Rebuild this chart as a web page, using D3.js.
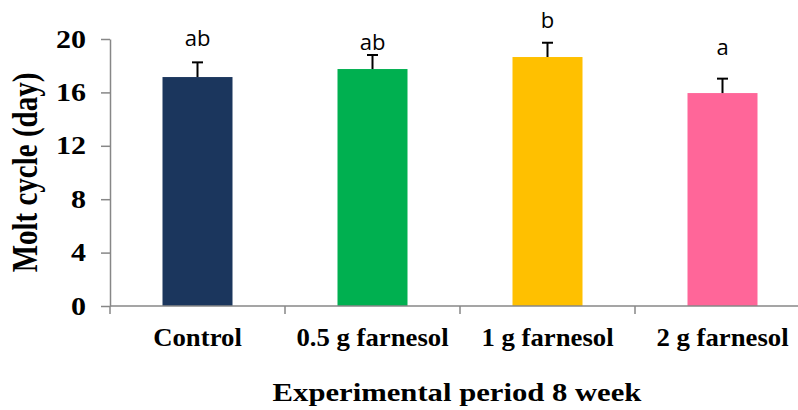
<!DOCTYPE html>
<html>
<head>
<meta charset="utf-8">
<script src="https://cdn.jsdelivr.net/npm/d3@7"></script>
<style>
  html, body { margin: 0; padding: 0; background: #fff; }
  svg { display: block; }
</style>
</head>
<body>
<svg id="chart" width="798" height="410"></svg>
<script>
// Molt cycle length per treatment (days), with standard error and significance letters
const categories = ["Control", "0.5 g farnesol", "1 g farnesol", "2 g farnesol"];
const means = [17.15, 17.75, 18.65, 15.95];
const errors = [1.1, 1.05, 1.07, 1.08];
const letters = ["ab", "ab", "b", "a"];
const letterAt = [19.48, 19.18, 20.82, 18.8];   // value level where each letter sits
const yTicks = [0, 4, 8, 12, 16, 20];
const colors = ["#1b365d", "#00b050", "#ffc000", "#ff6699"];

const svg = d3.select("#chart");
const serif = "'Liberation Serif', 'Times New Roman', serif";
const sans = "'Open Sans', 'Noto Sans', sans-serif";
const axisGrey = "#878787";

const x = d3.scaleBand()
  .domain(categories)
  .range([110, 810])
  .paddingInner(0.6)
  .paddingOuter(0.3);

const y = d3.scaleLinear().domain([0, 20]).range([306, 39]);

// text placed at (px, py) and widened horizontally by factor k
function wideText(parent, px, py, k, str, size, anchor) {
  return parent.append("g")
    .attr("transform", `translate(${px},${py}) scale(${k},1)`)
    .append("text")
    .attr("text-anchor", anchor)
    .attr("font-family", serif)
    .attr("font-weight", "bold")
    .attr("font-size", size)
    .attr("fill", "#000")
    .text(str);
}

// bars
svg.append("g").selectAll("rect")
  .data(categories)
  .join("rect")
  .attr("x", d => x(d))
  .attr("y", (d, i) => y(means[i]))
  .attr("width", x.bandwidth())
  .attr("height", (d, i) => y(0) - y(means[i]))
  .attr("fill", (d, i) => colors[i]);

// upper error bars
const eb = svg.append("g").attr("stroke", "#000").attr("stroke-width", 2);
categories.forEach((c, i) => {
  const cx = x(c) + x.bandwidth() / 2;
  eb.append("line")
    .attr("x1", cx).attr("x2", cx)
    .attr("y1", y(means[i])).attr("y2", y(means[i] + errors[i]));
  eb.append("line")
    .attr("x1", cx - 5.5).attr("x2", cx + 5.5)
    .attr("y1", y(means[i] + errors[i])).attr("y2", y(means[i] + errors[i]));
});

// significance letters
svg.append("g").selectAll("text")
  .data(categories)
  .join("text")
  .attr("x", d => x(d) + x.bandwidth() / 2)
  .attr("y", (d, i) => y(letterAt[i]))
  .attr("text-anchor", "middle")
  .attr("font-family", sans)
  .attr("font-size", 22)
  .attr("fill", "#000")
  .text((d, i) => letters[i]);

// y axis (line and ticks from d3.axisLeft, labels drawn widened)
const yAxis = svg.append("g")
  .attr("transform", "translate(110,0)")
  .call(d3.axisLeft(y).tickValues(yTicks).tickSize(9).tickSizeOuter(0).tickFormat(""));
yAxis.select(".domain").attr("stroke", axisGrey).attr("stroke-width", 1.5);
yAxis.selectAll(".tick line").attr("stroke", axisGrey).attr("stroke-width", 1.5);
const yLab = svg.append("g");
yTicks.forEach(t => wideText(yLab, 86, y(t) + 8.5, 1.2, d3.format("d")(t), 25, "end"));

// x axis with ticks at band boundaries
const step = x.step();
const gapHalf = (step - x.bandwidth()) / 2;
const bounds = categories.map(c => x(c) - gapHalf)
  .concat([x(categories[categories.length - 1]) + x.bandwidth() + gapHalf]);
const xAxis = svg.append("g");
xAxis.append("line")
  .attr("x1", x.range()[0]).attr("x2", x.range()[1])
  .attr("y1", y(0)).attr("y2", y(0))
  .attr("stroke", axisGrey).attr("stroke-width", 1.5);
xAxis.selectAll(".xt")
  .data(bounds)
  .join("line")
  .attr("class", "xt")
  .attr("x1", d => d).attr("x2", d => d)
  .attr("y1", y(0)).attr("y2", y(0) + 8)
  .attr("stroke", axisGrey).attr("stroke-width", 1.5);
categories.forEach(c => wideText(xAxis, x(c) + x.bandwidth() / 2, 346, 1.07, c, 25, "middle"));

// axis titles
wideText(svg, 457, 401, 1.18, "Experimental period 8 week", 26, "middle");

svg.append("text")
  .attr("transform", "translate(37,172.5) scale(1.2,1) rotate(-90)")
  .attr("text-anchor", "middle")
  .attr("font-family", serif)
  .attr("font-weight", "bold")
  .attr("font-size", 29)
  .attr("fill", "#000")
  .text("Molt cycle (day)");
</script>
</body>
</html>
